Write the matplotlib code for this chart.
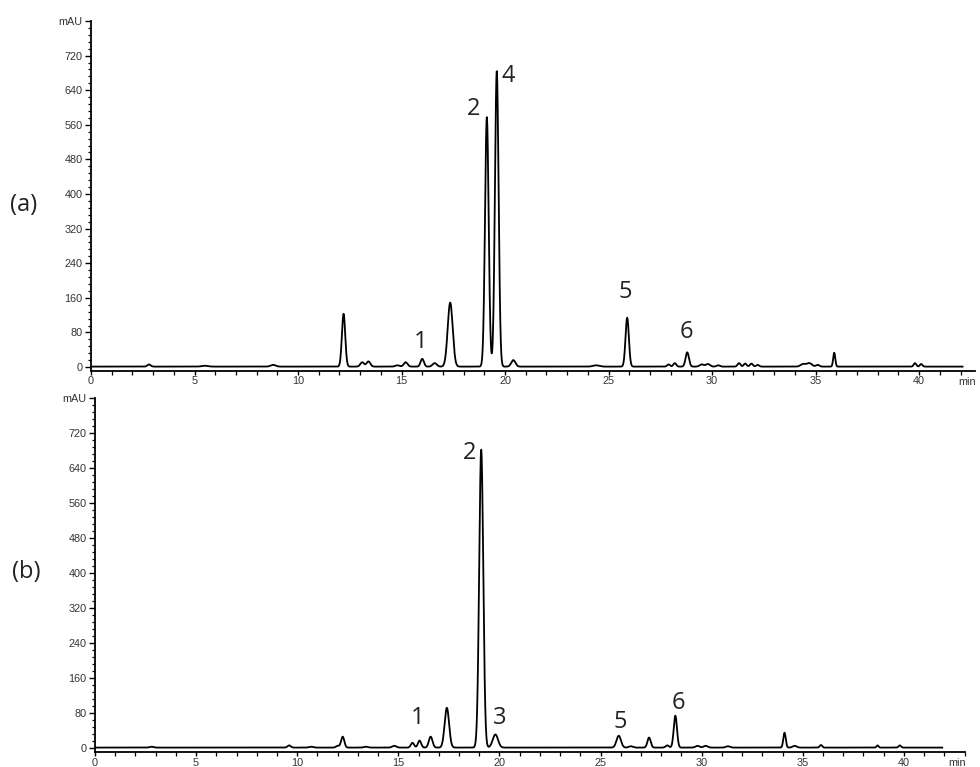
import numpy as np
import matplotlib
matplotlib.use("Agg")
import matplotlib.pyplot as plt
from matplotlib.ticker import MultipleLocator

# ---- data: peak tables ----
a_times = [2.8, 5.5, 8.8, 12.2, 13.1, 13.4, 14.8, 15.2, 16.0, 16.6, 17.35, 19.12, 19.6, 20.4,
           24.4, 25.9, 27.9, 28.2, 28.8, 29.5, 29.8, 30.3, 31.3, 31.6, 31.9, 32.2, 34.4, 34.7,
           35.1, 35.9, 39.8, 40.1]
a_heights = [5, 2, 4, 122, 10, 12, 3, 10, 18, 8, 148, 577, 683, 15,
             3, 113, 5, 8, 33, 5, 6, 3, 8, 7, 7, 4, 6, 8,
             4, 32, 8, 6]
a_widths = [0.08, 0.15, 0.12, 0.08, 0.09, 0.09, 0.1, 0.09, 0.08, 0.1, 0.12, 0.088, 0.088, 0.1,
            0.15, 0.08, 0.07, 0.07, 0.08, 0.1, 0.1, 0.08, 0.07, 0.07, 0.07, 0.07, 0.12, 0.12,
            0.08, 0.05, 0.06, 0.06]

b_times = [2.8, 9.6, 10.7, 12.0, 12.25, 13.4, 14.8, 15.7, 16.05, 16.6, 17.4, 19.1, 19.8,
           25.9, 26.5, 27.4, 28.3, 28.7, 29.8, 30.2, 31.3, 34.1, 34.6, 35.9, 38.7, 39.8]
b_heights = [2, 5, 2, 4, 25, 2, 4, 11, 16, 25, 91, 681, 30,
             27, 3, 23, 5, 73, 4, 4, 3, 34, 4, 6, 5, 5]
b_widths = [0.1, 0.08, 0.1, 0.08, 0.08, 0.1, 0.1, 0.08, 0.08, 0.09, 0.11, 0.1, 0.13,
            0.11, 0.1, 0.08, 0.08, 0.08, 0.1, 0.1, 0.1, 0.06, 0.1, 0.06, 0.05, 0.06]

a_end, b_end = 42.1, 41.9
a_labels = ["1", "2", "4", "5", "6"]
a_label_pos = [(15.9, 58), (18.5, 596), (20.15, 674), (25.8, 173), (28.75, 81)]
b_labels = ["1", "2", "3", "5", "6"]
b_label_pos = [(15.97, 69), (18.5, 674), (20.03, 69), (25.96, 59), (28.83, 103)]

y_ticks = [0, 80, 160, 240, 320, 400, 480, 560, 640, 720, 800]
y_ticklabels = ["0", "80", "160", "240", "320", "400", "480", "560", "640", "720", "mAU"]
x_ticks = [0, 5, 10, 15, 20, 25, 30, 35, 40]


def trace(times, heights, widths, end):
    t = np.linspace(0, end, 6000)
    s = np.full_like(t, 1.0)
    for c, h, w in zip(times, heights, widths):
        s += h * np.exp(-0.5 * ((t - c) / w) ** 2)
    return t, s


fig = plt.figure(figsize=(9.8, 7.67), dpi=100)
ax_a = fig.add_axes([91 / 980, 1 - 370.5 / 767, (975 - 91) / 980, (370.5 - 21) / 767])
ax_b = fig.add_axes([95 / 980, 1 - 752.4 / 767, (964.5 - 95) / 980, (752.4 - 398) / 767])

tick_font = dict(family="Liberation Sans", size=7.8, color="#333333")
lab_font = dict(family="Open Sans", size=17, color="#222222")

for ax, (times, heights, widths, end), xmax, ymin, labels, lpos, minpos in [
    (ax_a, (a_times, a_heights, a_widths, a_end), 42.7, -8, a_labels, a_label_pos, (0.991, -0.034)),
    (ax_b, (b_times, b_heights, b_widths, b_end), 43.0, -10, b_labels, b_label_pos, (0.992, -0.03)),
]:
    t, s = trace(times, heights, widths, end)
    ax.plot(t, s, color="black", lw=1.3)
    ax.set_xlim(0, xmax)
    ax.set_ylim(ymin, 800)
    for sp in ["top", "right"]:
        ax.spines[sp].set_visible(False)
    ax.spines["left"].set_linewidth(1.3)
    ax.spines["bottom"].set_linewidth(1.3)
    ax.set_yticks(y_ticks)
    ax.set_yticklabels(y_ticklabels)
    ax.yaxis.set_minor_locator(MultipleLocator(16))
    ax.set_xticks(x_ticks)
    ax.set_xticklabels([str(v) for v in x_ticks])
    ax.xaxis.set_minor_locator(MultipleLocator(1))
    ax.tick_params(axis="y", which="major", length=4, width=1.0, pad=2)
    ax.tick_params(axis="y", which="minor", length=2.5, width=0.9)
    ax.tick_params(axis="x", which="major", length=3, width=1.0, pad=1)
    ax.tick_params(axis="x", which="minor", length=3, width=0.9)
    for lbl in ax.get_xticklabels() + ax.get_yticklabels():
        lbl.set_fontfamily(tick_font["family"])
        lbl.set_fontsize(tick_font["size"])
        lbl.set_color(tick_font["color"])
    ax.text(minpos[0], minpos[1], "min", transform=ax.transAxes, ha="center", va="center", **tick_font)
    for txt, (x, y) in zip(labels, lpos):
        ax.text(x, y, txt, ha="center", va="center", **lab_font)

fig.text(24 / 980, 1 - 205 / 767, "(a)", ha="center", va="center", **lab_font)
fig.text(26 / 980, 1 - 572 / 767, "(b)", ha="center", va="center", **lab_font)

fig.savefig("out.png", dpi=100, facecolor="white")
